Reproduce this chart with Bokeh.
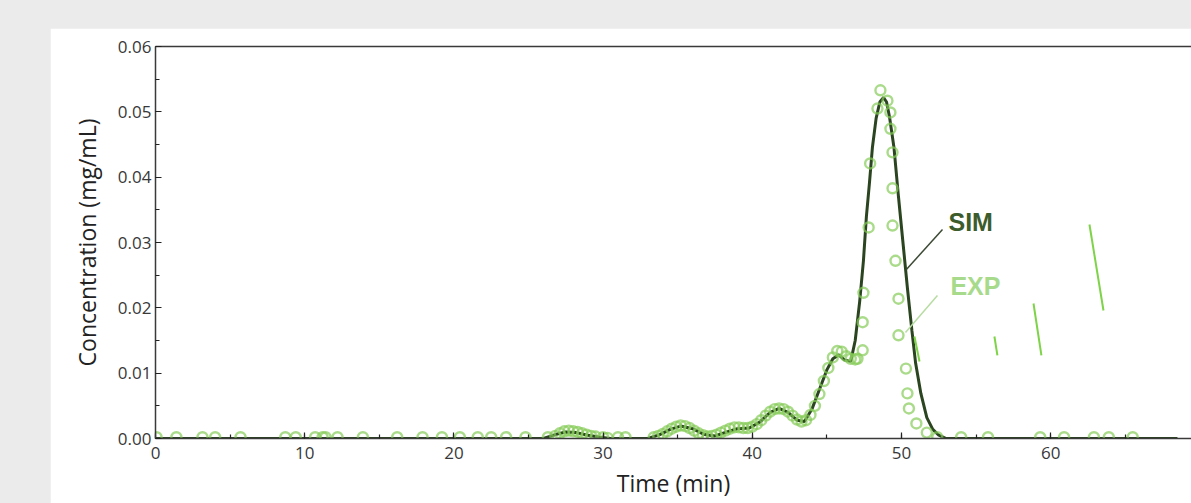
from bokeh.plotting import figure
from bokeh.models import Range1d, LinearAxis, PrintfTickFormatter, SingleIntervalTicker, FixedTicker, Label
from bokeh.embed import file_html
from bokeh.resources import INLINE

# ---------------- data ----------------
# Simulated (SIM) chromatogram: time (min) and concentration (mg/mL)
sim_t = [0, 26.0, 26.8, 27.5, 28.2, 29.0, 29.8, 30.5, 33.0, 33.8, 34.5, 35.2, 36.0, 36.8, 37.5,
         38.3, 39.0, 39.8, 40.5, 41.2, 41.8, 42.4, 43.0, 43.5, 44.0, 44.5, 45.0, 45.4, 45.8,
         46.2, 46.6, 46.9, 47.2, 47.45, 47.65, 47.85, 48.05, 48.3, 48.55, 48.8, 49.0, 49.2,
         49.5, 49.8, 50.1, 50.4, 50.7, 50.95, 51.3, 51.7, 52.1, 52.5, 53.0, 68.5]
sim_c = [0, 0, 0.0006, 0.0010, 0.0009, 0.0005, 0.0002, 0, 0, 0.0006, 0.0014, 0.0019, 0.0015,
         0.0006, 0.0004, 0.0010, 0.0015, 0.0016, 0.0025, 0.0040, 0.0046, 0.0040, 0.0028, 0.0026,
         0.0045, 0.0075, 0.0105, 0.0122, 0.0128, 0.0120, 0.0118, 0.0150, 0.0210, 0.0272, 0.0340,
         0.0390, 0.0445, 0.0490, 0.0515, 0.0522, 0.0515, 0.0492, 0.0445, 0.0370, 0.0300, 0.0230,
         0.0165, 0.0115, 0.0069, 0.0032, 0.0014, 0.0005, 0, 0]

# Experimental (EXP) data points
exp_t = [0.07, 1.4, 3.15, 4.0, 5.7, 8.7, 9.4, 10.7, 11.2, 11.4, 12.2, 13.9, 16.2, 17.9, 19.2,
         20.4, 21.6, 22.5, 23.5, 24.8, 26.3,
         26.8, 27.1, 27.4, 27.7, 28.0, 28.3, 28.6, 28.9, 29.2, 29.5, 30.0, 30.3, 31.0, 31.5,
         33.4, 33.7, 34.0, 34.3, 34.6, 34.9, 35.2, 35.5, 35.8, 36.1, 36.4, 36.7, 37.0, 37.3,
         37.6, 37.9, 38.2, 38.5, 38.8, 39.1, 39.4, 39.7, 40.0, 40.3, 40.6, 40.9, 41.2, 41.5,
         41.8, 42.1, 42.4, 42.7, 43.0, 43.3, 43.6, 43.9, 44.2, 44.5, 44.8, 45.1, 45.4, 45.7,
         46.0, 46.3, 46.6, 46.9, 47.05, 47.4, 47.4, 47.45, 47.8, 47.9, 48.39, 48.59, 49.06,
         49.26, 49.26, 49.4, 49.4, 49.4, 49.6, 49.8, 49.8, 50.3, 50.4, 50.5, 51.0, 51.7, 52.4,
         54.0, 55.8, 59.3, 60.9, 62.9, 63.9, 65.5]
exp_c = [0.0002] * 21 + \
        [0.0004, 0.0008, 0.0011, 0.0012, 0.0011, 0.0010, 0.0008, 0.0006, 0.0004, 0.0003,
         0.0002, 0.0001, 0.0002, 0.0002,
         0.0002, 0.0004, 0.0007, 0.0011, 0.0015, 0.0018, 0.0020, 0.0019, 0.0016, 0.0012,
         0.0008, 0.0005, 0.0003, 0.0004, 0.0006, 0.0009, 0.0012, 0.0015, 0.0017, 0.0017,
         0.0016, 0.0016, 0.0018, 0.0022, 0.0028, 0.0035, 0.0041, 0.0045, 0.0046, 0.0045,
         0.0041, 0.0035, 0.0029, 0.0026, 0.0028, 0.0036, 0.0050, 0.0068, 0.0088, 0.0108,
         0.0124, 0.0134, 0.0133, 0.0126, 0.0122, 0.0121, 0.0122, 0.0135, 0.0178, 0.0223,
         0.0323, 0.0421, 0.0505, 0.0533, 0.0517, 0.0499, 0.0474, 0.0438, 0.0383, 0.0326,
         0.0272, 0.0214, 0.0158, 0.0107, 0.0069, 0.0046, 0.0023, 0.0009, 0.0002,
         0.0002, 0.0002, 0.0002, 0.0002, 0.0002, 0.0002, 0.0002]

x_ticks_interval = 10
y_ticks_interval = 0.01

# annotation label positions (data coordinates)
sim_label = (53.15, 0.0331)
exp_label = (53.28, 0.0233)
sim_leader = ([52.75], [0.0320], [50.33], [0.02587])
exp_leader = ([52.41], [0.02189], [50.27], [0.01623])
# stray green strokes present in the source image
stray_x0 = [50.87, 56.23, 58.85, 62.60]
stray_y0 = [0.01561, 0.01561, 0.02066, 0.03275]
stray_x1 = [51.21, 56.43, 59.38, 63.54]
stray_y1 = [0.01179, 0.01271, 0.01271, 0.01959]

# ---------------- figure ----------------
FONT = "Open Sans"
p = figure(width=1141, height=475, output_backend="svg", toolbar_location=None,
           x_range=Range1d(0, 69.44), y_range=Range1d(0, 0.06),
           x_axis_label="Time (min)", y_axis_label="Concentration (mg/mL)",
           min_border_left=105, min_border_right=0, min_border_top=18, min_border_bottom=65)
p.margin = (28, 0, 0, 50)
p.outline_line_color = None
p.background_fill_color = "white"
p.border_fill_color = "white"
p.xgrid.visible = False
p.ygrid.visible = False

p.xaxis.ticker = SingleIntervalTicker(interval=x_ticks_interval, num_minor_ticks=2)
p.yaxis.ticker = SingleIntervalTicker(interval=y_ticks_interval, num_minor_ticks=2)
p.yaxis.formatter = PrintfTickFormatter(format="%.2f")

for ax in (p.xaxis[0], p.yaxis[0]):
    ax.axis_line_color = "#3a3a3a"
    ax.axis_line_width = 1.5
    ax.major_tick_in = 6
    ax.major_tick_out = 0
    ax.minor_tick_in = 4
    ax.minor_tick_out = 0
    ax.major_tick_line_color = "#222222"
    ax.minor_tick_line_color = "#222222"
    ax.major_tick_line_width = 1.2
    ax.minor_tick_line_width = 1.2
    ax.major_label_text_font = FONT
    ax.major_label_text_font_size = "17px"
    ax.major_label_text_color = "#383838"
    ax.axis_label_text_font = FONT
    ax.axis_label_text_font_size = "23px"
    ax.axis_label_text_font_style = "normal"
    ax.axis_label_text_color = "#222222"
p.xaxis.major_label_standoff = 8
p.xaxis.axis_label_standoff = 5
p.yaxis.major_label_standoff = 4
p.yaxis.axis_label_standoff = 12

top = LinearAxis(ticker=FixedTicker(ticks=[]), major_tick_line_color=None,
                 minor_tick_line_color=None, axis_line_color="#3a3a3a", axis_line_width=1.5)
p.add_layout(top, "above")

# data
p.line(sim_t, sim_c, line_color="#2b4520", line_width=3)
p.scatter(exp_t, exp_c, marker="circle", size=10, fill_color=None,
          line_color="#86cc58", line_width=2.4, line_alpha=0.7)

# annotations
p.segment(*sim_leader, line_color="#3c4a35", line_width=1.5)
p.segment(*exp_leader, line_color="#b7dca2", line_width=1.5)
p.segment(stray_x0, stray_y0, stray_x1, stray_y1, line_color="#7ed348", line_width=2)
p.add_layout(Label(x=sim_label[0], y=sim_label[1], text="SIM", text_font="Liberation Sans",
                   text_font_style="bold", text_font_size="25px", text_color="#3d5c2c",
                   text_baseline="middle"))
p.add_layout(Label(x=exp_label[0], y=exp_label[1], text="EXP", text_font="Liberation Sans",
                   text_font_style="bold", text_font_size="25px", text_color="#a8da8c",
                   text_baseline="middle"))

html = file_html(p, INLINE)
html = html.replace("</head>", "<style>html,body{margin:0;padding:0;background:#ebebeb;overflow:hidden}</style></head>", 1)
open("out.html", "w").write(html)
